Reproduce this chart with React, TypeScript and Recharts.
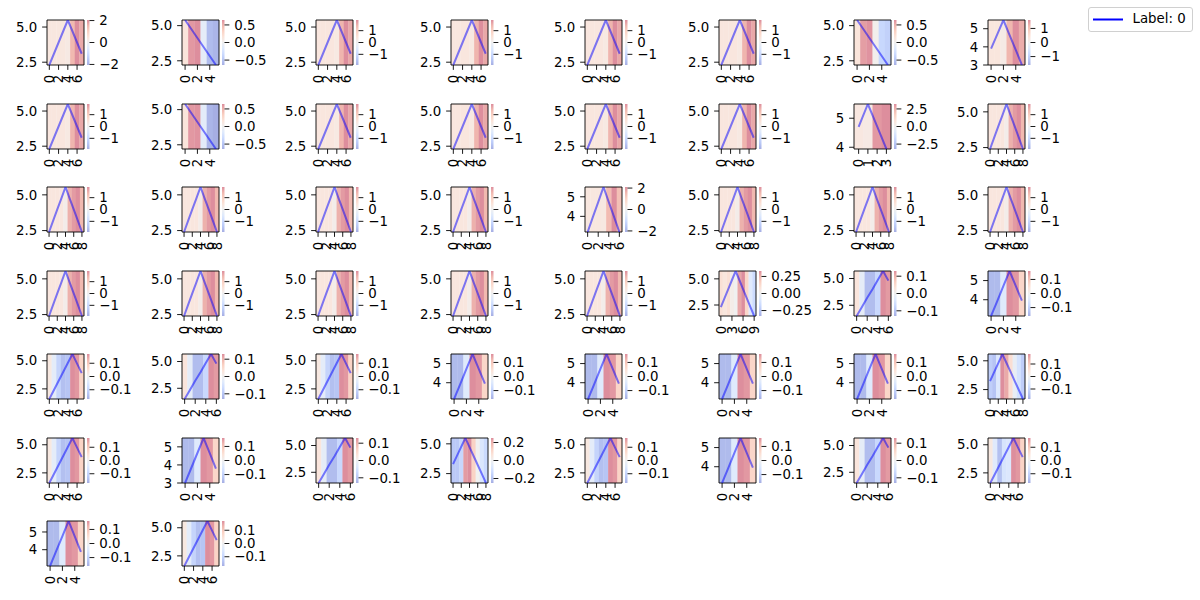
import React from 'react';
import { ComposedChart, Line, XAxis, YAxis, ReferenceArea } from 'recharts';

// ---------- series values ----------
const lineT8 = [2.3, 3.1, 3.9, 4.7, 5.5, 4.7, 3.9, 3.1];
const lineD6 = [5.4, 4.76, 4.12, 3.48, 2.84, 2.2];
const lineS6 = [3.9, 4.69, 5.48, 4.65, 3.83, 3.0];
const lineF4 = [4.7, 5.49, 4.72, 3.94];
const lineT9 = [2.4, 3.19, 3.98, 4.76, 5.55, 4.76, 3.98, 3.19, 2.4];
const lineM7 = [3.2, 3.97, 4.73, 5.5, 4.73, 3.97, 3.2];
const lineW10 = [2.3, 3.16, 4.02, 4.89, 5.75, 4.89, 4.02, 3.16, 2.3, 1.45];
const lineP7 = [1.5, 2.35, 3.2, 4.0, 4.85, 5.7, 4.8];
const lineQ6 = [3.15, 3.93, 4.72, 5.5, 4.72, 3.95];
const lineQ6b = [3.0, 3.83, 4.66, 5.49, 4.65, 3.8];
const lineQ6c = [3.08, 3.93, 4.77, 5.62, 4.75, 3.88];
const lineP8 = [1.6, 2.4, 3.2, 4.0, 4.8, 5.6, 4.75, 3.9];
const lineR9 = [3.24, 4.02, 4.8, 5.59, 4.81, 4.03, 3.24, 2.46, 1.68];
const lineR9b = [3.3, 4.03, 4.76, 5.49, 4.73, 3.98, 3.22, 2.47, 1.71];

// ---------- attribution values (background bands) ----------
const attrT8a = [0.4, 0.4, 0.4, 0.4, 0.3, 1.5, 2.05, 1.7];
const attrT8 = [0.4, 0.4, 0.4, 0.4, 0.3, 1.45, 1.9, 1.6];
const attrD6a = [0.15, 0.6, 0.64, -0.1, -0.55, -0.6];
const attrD6b = [0.15, 0.58, 0.62, 0.03, -0.35, -0.4];
const attrD6c = [0.15, 0.6, 0.62, -0.12, -0.6, -0.64];
const attrS6 = [0.35, 0.35, 0.2, 1.2, 1.6, 1.3];
const attrF4 = [0.6, 0.45, 3.0, 3.2];
const attrT9 = [0.4, 0.4, 0.4, 0.4, 0.15, 1.5, 1.75, 1.9, 1.4];
const attrM7 = [0.4, 0.4, 0.4, 0.35, 1.5, 2.1, 1.4];
const attrW10 = [0.1, 0.07, 0.1, 0.03, 0.0, 0.28, 0.33, 0.14, -0.08, -0.16];
const attrP7 = [0.03, -0.02, -0.11, -0.11, -0.07, 0.13, 0.12];
const attrQ6 = [-0.14, -0.14, -0.04, 0.16, 0.15, 0.07];
const attrP8 = [0.03, -0.03, -0.1, -0.14, -0.13, 0.17, 0.16, 0.08];
const attrP8b = [0.03, -0.04, -0.14, -0.06, -0.05, 0.17, 0.16, 0.08];
const attrR9 = [-0.12, -0.14, -0.05, 0.18, 0.15, 0.06, -0.02, -0.07, -0.12];
const attrR9b = [-0.18, -0.18, -0.14, 0.23, 0.25, 0.12, 0.0, -0.08, -0.13];

// ---------- tick sets ----------
const x0246 = [0, 2, 4, 6];
const x024 = [0, 2, 4];
const x0123 = [0, 1, 2, 3];
const x02468 = [0, 2, 4, 6, 8];
const x0369 = [0, 3, 6, 9];
const y25 = [2.5, 5.0];
const y45 = [4, 5];
const y345 = [3, 4, 5];
const cbOne = [-1, 0, 1];
const cbTwo = [-2, 0, 2];
const cbHalf = [-0.5, 0.0, 0.5];
const cbTwoHalf = [-2.5, 0.0, 2.5];
const cbQuarter = [-0.25, 0.0, 0.25];
const cbTenth = [-0.1, 0.0, 0.1];
const cbFifth = [-0.2, 0.0, 0.2];

// ---------- panels (row-major, 8 per row) ----------
const panelSeries = [
  lineT8, lineD6, lineT8, lineT8, lineT8, lineT8, lineD6, lineS6,
  lineT8, lineD6, lineT8, lineT8, lineT8, lineT8, lineF4, lineT9,
  lineT9, lineT9, lineT9, lineT9, lineM7, lineT9, lineT9, lineT9,
  lineT9, lineT9, lineT9, lineT9, lineT9, lineW10, lineP7, lineQ6,
  lineP8, lineP7, lineP8, lineQ6, lineQ6, lineQ6, lineQ6, lineR9,
  lineP8, lineQ6b, lineP7, lineR9b, lineP8, lineQ6, lineP7, lineP8,
  lineQ6c, lineP8,
];
const panelAttr = [
  attrT8a, attrD6a, attrT8, attrT8, attrT8, attrT8, attrD6b, attrS6,
  attrT8, attrD6c, attrT8, attrT8, attrT8, attrT8, attrF4, attrT9,
  attrT9, attrT9, attrT9, attrT9, attrM7, attrT9, attrT9, attrT9,
  attrT9, attrT9, attrT9, attrT9, attrT9, attrW10, attrP7, attrQ6,
  attrP8, attrP7, attrP8, attrQ6, attrQ6, attrQ6, attrQ6, attrR9,
  attrP8, attrQ6, attrP7, attrR9b, attrP8, attrQ6, attrP7, attrP8b,
  attrQ6, attrP8,
];
const panelVmax = [
  2.05, 0.64, 1.9, 1.9, 1.9, 1.9, 0.64, 1.6,
  1.9, 0.64, 1.9, 1.9, 1.9, 1.9, 3.2, 1.9,
  1.9, 1.9, 1.9, 1.9, 2.1, 1.9, 1.9, 1.9,
  1.9, 1.9, 1.9, 1.9, 1.9, 0.33, 0.13, 0.16,
  0.17, 0.13, 0.17, 0.16, 0.16, 0.16, 0.16, 0.18,
  0.17, 0.16, 0.13, 0.25, 0.17, 0.16, 0.13, 0.17,
  0.16, 0.17,
];
const panelCbTicks = [
  cbTwo, cbHalf, cbOne, cbOne, cbOne, cbOne, cbHalf, cbOne,
  cbOne, cbHalf, cbOne, cbOne, cbOne, cbOne, cbTwoHalf, cbOne,
  cbOne, cbOne, cbOne, cbOne, cbTwo, cbOne, cbOne, cbOne,
  cbOne, cbOne, cbOne, cbOne, cbOne, cbQuarter, cbTenth, cbTenth,
  cbTenth, cbTenth, cbTenth, cbTenth, cbTenth, cbTenth, cbTenth, cbTenth,
  cbTenth, cbTenth, cbTenth, cbFifth, cbTenth, cbTenth, cbTenth, cbTenth,
  cbTenth, cbTenth,
];
const panelYTicks = [
  y25, y25, y25, y25, y25, y25, y25, y345,
  y25, y25, y25, y25, y25, y25, y45, y25,
  y25, y25, y25, y25, y45, y25, y25, y25,
  y25, y25, y25, y25, y25, y25, y25, y45,
  y25, y25, y25, y45, y45, y45, y45, y25,
  y25, y345, y25, y25, y25, y45, y25, y25,
  y45, y25,
];
const panelXTicks = [
  x0246, x024, x0246, x0246, x0246, x0246, x024, x024,
  x0246, x024, x0246, x0246, x0246, x0246, x0123, x02468,
  x02468, x02468, x02468, x02468, x0246, x02468, x02468, x02468,
  x02468, x02468, x02468, x02468, x02468, x0369, x0246, x024,
  x0246, x0246, x0246, x024, x024, x024, x024, x02468,
  x0246, x024, x0246, x02468, x0246, x024, x0246, x0246,
  x024, x0246,
];
const legendLabels = ['Label: 0'];

// ---------- colour map (coolwarm, drawn with alpha on white) ----------
const CW = [
  [58, 76, 193], [98, 130, 234], [141, 176, 254], [184, 208, 249], [221, 221, 221],
  [245, 196, 173], [244, 154, 123], [222, 96, 77], [180, 4, 38],
];
const ALPHA = 0.45;
function cmap(t: number): string {
  const tt = Math.max(0, Math.min(1, t)) * (CW.length - 1);
  const i = Math.min(CW.length - 2, Math.floor(tt));
  const f = tt - i;
  const c = [0, 1, 2].map((k) => {
    const v = CW[i][k] + (CW[i + 1][k] - CW[i][k]) * f;
    return Math.round(v * ALPHA + 255 * (1 - ALPHA));
  });
  return `rgb(${c[0]},${c[1]},${c[2]})`;
}

const decimalsOf = (arr: number[]) =>
  Math.max(...arr.map((v) => { const s = String(v); return s.includes('.') ? s.split('.')[1].length : 0; }));
const fmt = (v: number, d: number) => v.toFixed(d).replace('-', '\u2212');

const FONT = 'DejaVu Sans, sans-serif';
const FS = 13.33;
const TICK = 4.86;

const RotTick = (props: any) => {
  const { x, y, payload } = props;
  return (
    <text x={x} y={y} transform={`rotate(-90 ${x} ${y})`} textAnchor="end" dy="0.36em"
      fontSize={FS} fill="#000" fontFamily={FONT}>
      {payload.value}
    </text>
  );
};

function Panel({ idx }: { idx: number }) {
  const row = Math.floor(idx / 8);
  const col = idx % 8;
  const left = 47.3 + 134.4 * col;
  const top = 20 + 83.5 * row;
  const ys = panelSeries[idx];
  const attr = panelAttr[idx];
  const vmax = panelVmax[idx];
  const n = ys.length;
  const data = ys.map((y, i) => ({ x: i, y }));
  const ymin = Math.min(...ys);
  const ymax = Math.max(...ys);
  const yt = panelYTicks[idx];
  const yd = decimalsOf(yt);
  const cbt = panelCbTicks[idx];
  const cd = decimalsOf(cbt);
  const gid = `cbgrad${idx}`;
  return (
    <>
      <div style={{ position: 'absolute', left: left - 45, top: top - 10 }}>
        <ComposedChart width={87} height={90} data={data} margin={{ top: 10, right: 5, bottom: 0, left: 0 }}>
          <XAxis dataKey="x" type="number" domain={[-0.5, n - 0.5]} ticks={panelXTicks[idx]} interval={0}
            allowDataOverflow height={35} tickSize={TICK} tickMargin={TICK} tick={RotTick}
            axisLine={false} tickLine={{ stroke: '#000', strokeWidth: 0.9 }} />
          <YAxis type="number" domain={[ymin, ymax]} ticks={yt} interval={0} allowDataOverflow width={45}
            tickSize={TICK} tickMargin={TICK} tick={{ fill: '#000', fontSize: FS, fontFamily: FONT }}
            tickFormatter={(v: number) => fmt(v, yd)} axisLine={false} tickLine={{ stroke: '#000', strokeWidth: 0.9 }} />
          {attr.map((v, i) => (
            <ReferenceArea key={i} x1={i - 0.5} x2={i === n - 1 ? i + 0.5 : i + 0.56} y1={ymin} y2={ymax}
              fill={cmap(0.5 + 0.5 * v / vmax)} fillOpacity={1} stroke="none" />
          ))}
          <Line dataKey="y" stroke="#0000ff" strokeOpacity={0.5} strokeWidth={2} dot={false}
            isAnimationActive={false} strokeLinejoin="round" />
          <ReferenceArea x1={-0.5} x2={n - 0.5} y1={ymin} y2={ymax} fill="none" stroke="#000" strokeWidth={0.9} />
        </ComposedChart>
      </div>
      <div style={{ position: 'absolute', left: left + 37 + 3, top: top - 10 }}>
        <ComposedChart width={64} height={70} data={[{ x: 0 }, { x: 1 }]} margin={{ top: 10, right: 0, bottom: 15, left: 0 }}>
          <defs>
            <linearGradient id={gid} x1="0" y1="0" x2="0" y2="1">
              {CW.map((_, k) => (
                <stop key={k} offset={`${(k / (CW.length - 1)) * 100}%`} stopColor={cmap(1 - k / (CW.length - 1))} />
              ))}
            </linearGradient>
          </defs>
          <XAxis dataKey="x" type="number" domain={[0, 1]} hide />
          <YAxis orientation="right" type="number" domain={[-vmax, vmax]} ticks={cbt} interval={0} allowDataOverflow
            width={61.5} tickSize={TICK} tickMargin={TICK} tick={{ fill: '#000', fontSize: FS, fontFamily: FONT }}
            tickFormatter={(v: number) => fmt(v, cd)} axisLine={false} tickLine={{ stroke: '#000', strokeWidth: 0.9 }} />
          <ReferenceArea x1={0} x2={1} y1={-vmax} y2={vmax} fill={`url(#${gid})`} fillOpacity={1} stroke="none" />
        </ComposedChart>
      </div>
    </>
  );
}

export default function App() {
  return (
    <div style={{ position: 'absolute', left: 0, top: 0, width: 1200, height: 600, background: '#fff', fontFamily: FONT }}>
      {panelSeries.map((_, i) => <Panel key={i} idx={i} />)}
      <div style={{
        position: 'absolute', left: 1088, top: 7, width: 105, height: 25, boxSizing: 'border-box',
        border: '1px solid #d0d0d0', borderRadius: 3, background: 'rgba(255,255,255,0.8)',
      }}>
        <svg width={40} height={23} style={{ position: 'absolute', left: 0, top: 0 }}>
          <line x1={4} y1={11.5} x2={34} y2={11.5} stroke="#0000ff" strokeWidth={2} />
        </svg>
        <span style={{ position: 'absolute', left: 43.5, top: 3, fontSize: 13.33, lineHeight: '16px', color: '#000', whiteSpace: 'nowrap' }}>
          {legendLabels[0]}
        </span>
      </div>
    </div>
  );
}
